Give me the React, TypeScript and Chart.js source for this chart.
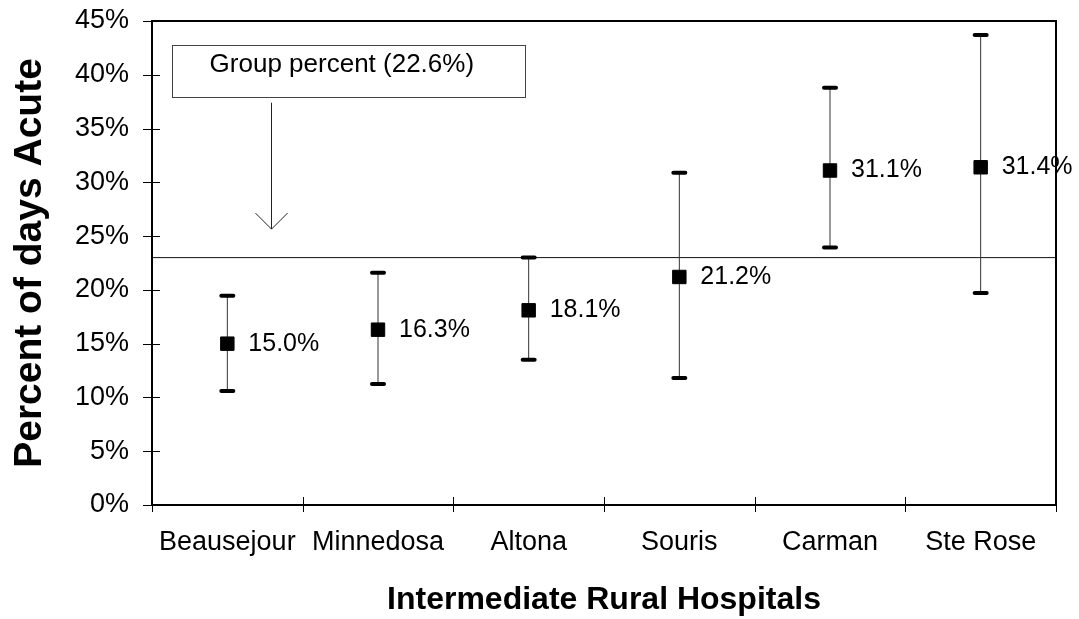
import React, { useEffect, useRef } from "react";
import { Chart, registerables } from "chart.js";

Chart.register(...registerables);

const hospitals = ["Beausejour", "Minnedosa", "Altona", "Souris", "Carman", "Ste Rose"];
const percentAcute = [15.0, 16.3, 18.1, 21.2, 31.1, 31.4];
const lowerCI = [10.6, 11.25, 13.5, 11.8, 23.95, 19.7];
const upperCI = [19.45, 21.6, 23.0, 30.9, 38.8, 43.7];
const valueLabels = ["15.0%", "16.3%", "18.1%", "21.2%", "31.1%", "31.4%"];
const groupLineValue = 23.0;
const groupLabel = "Group percent (22.6%)";
const yMin = 0;
const yMax = 45;
const yStep = 5;
const yTitle = "Percent of days Acute";
const xTitle = "Intermediate Rural Hospitals";

// annotation placement in data units (category index, percent)
const noteBox = { x0: -0.37, x1: 1.97, y0: 38.0, y1: 42.8, textX: 0.76, textY: 40.9 };
const noteArrow = { x: 0.29, yFrom: 37.4, yTo: 25.65 };

const FONT = "'Liberation Sans', Arial, sans-serif";

const decorPlugin = {
  id: "decor",
  beforeDatasetsDraw(chart: any) {
    const { ctx, chartArea, scales } = chart;
    const x = scales.x;
    const y = scales.y;
    ctx.save();
    const gy = y.getPixelForValue(groupLineValue);
    ctx.strokeStyle = "#111";
    ctx.lineWidth = 1;
    ctx.beginPath();
    ctx.moveTo(chartArea.left, gy);
    ctx.lineTo(chartArea.right, gy);
    ctx.stroke();
    for (let i = 0; i < hospitals.length; i++) {
      const px = x.getPixelForValue(i);
      const yl = y.getPixelForValue(lowerCI[i]);
      const yu = y.getPixelForValue(upperCI[i]);
      ctx.strokeStyle = "#333";
      ctx.lineWidth = 1;
      ctx.beginPath();
      ctx.moveTo(px, yl);
      ctx.lineTo(px, yu);
      ctx.stroke();
      ctx.strokeStyle = "#000";
      ctx.lineWidth = 4;
      ctx.lineCap = "round";
      ctx.beginPath();
      ctx.moveTo(px - 6, yl);
      ctx.lineTo(px + 6, yl);
      ctx.moveTo(px - 6, yu);
      ctx.lineTo(px + 6, yu);
      ctx.stroke();
      ctx.lineCap = "butt";
    }
    ctx.restore();
  },
  afterDraw(chart: any) {
    const { ctx, chartArea, scales } = chart;
    const x = scales.x;
    const y = scales.y;
    ctx.save();
    ctx.fillStyle = "#000";
    ctx.font = `25px ${FONT}`;
    ctx.textAlign = "left";
    ctx.textBaseline = "middle";
    for (let i = 0; i < hospitals.length; i++) {
      ctx.fillText(valueLabels[i], x.getPixelForValue(i) + 21, y.getPixelForValue(percentAcute[i]));
    }
    ctx.strokeStyle = "#000";
    ctx.lineWidth = 2;
    ctx.strokeRect(chartArea.left, chartArea.top, chartArea.right - chartArea.left, chartArea.bottom - chartArea.top);
    ctx.lineWidth = 1;
    ctx.beginPath();
    for (let v = yMin; v <= yMax; v += yStep) {
      const py = Math.round(y.getPixelForValue(v)) + 0.5;
      ctx.moveTo(chartArea.left - 9, py);
      ctx.lineTo(chartArea.left + 8, py);
    }
    for (let i = 0; i <= hospitals.length; i++) {
      const px = Math.round(x.getPixelForValue(i - 0.5)) + 0.5;
      ctx.moveTo(px, chartArea.bottom - 8);
      ctx.lineTo(px, chartArea.bottom + 7);
    }
    ctx.stroke();
    const bx0 = x.getPixelForValue(noteBox.x0);
    const bx1 = x.getPixelForValue(noteBox.x1);
    const by0 = y.getPixelForValue(noteBox.y1);
    const by1 = y.getPixelForValue(noteBox.y0);
    ctx.strokeStyle = "#444";
    ctx.lineWidth = 1;
    ctx.strokeRect(Math.round(bx0) + 0.5, Math.round(by0) + 0.5, Math.round(bx1 - bx0), Math.round(by1 - by0));
    ctx.fillStyle = "#000";
    ctx.font = `26px ${FONT}`;
    ctx.textAlign = "center";
    ctx.textBaseline = "middle";
    ctx.fillText(groupLabel, x.getPixelForValue(noteBox.textX), y.getPixelForValue(noteBox.textY));
    const ax = Math.round(x.getPixelForValue(noteArrow.x)) + 0.5;
    const ay0 = y.getPixelForValue(noteArrow.yFrom);
    const ay1 = y.getPixelForValue(noteArrow.yTo);
    ctx.strokeStyle = "#222";
    ctx.beginPath();
    ctx.moveTo(ax, ay0);
    ctx.lineTo(ax, ay1);
    ctx.moveTo(ax - 16, ay1 - 16);
    ctx.lineTo(ax, ay1);
    ctx.lineTo(ax + 16, ay1 - 16);
    ctx.stroke();
    ctx.restore();
  },
};

export default function App() {
  const canvasRef = useRef<HTMLCanvasElement | null>(null);

  useEffect(() => {
    const canvas = canvasRef.current;
    if (!canvas) return;
    const chart = new Chart(canvas, {
      type: "line",
      data: {
        labels: hospitals,
        datasets: [
          {
            label: "Percent of days Acute",
            data: percentAcute,
            showLine: false,
            pointStyle: "rect",
            pointRadius: 9.5,
            pointHoverRadius: 9.5,
            pointBackgroundColor: "#000",
            pointBorderColor: "#000",
            pointBorderWidth: 1,
          },
        ],
      },
      options: {
        animation: false,
        responsive: true,
        maintainAspectRatio: false,
        events: [],
        layout: { padding: { left: 0, top: 21, right: 23, bottom: 0 } },
        plugins: {
          legend: { display: false },
          tooltip: { enabled: false },
        },
        scales: {
          x: {
            type: "category",
            offset: true,
            grid: { display: false, drawTicks: false },
            border: { display: false },
            ticks: {
              color: "#000",
              font: { family: FONT, size: 27 },
              padding: 21,
              maxRotation: 0,
              autoSkip: false,
            },
            title: {
              display: true,
              text: xTitle,
              color: "#000",
              font: { family: FONT, size: 32, weight: "bold", lineHeight: 1 },
              padding: { top: 0, bottom: 3 },
            },
            afterFit(scale: any) {
              scale.height = 114;
              scale.paddingLeft = 0;
              scale.paddingRight = 0;
            },
          },
          y: {
            min: yMin,
            max: yMax,
            grid: { display: false, drawTicks: false },
            border: { display: false },
            ticks: {
              stepSize: yStep,
              color: "#000",
              font: { family: FONT, size: 27 },
              padding: 23,
              callback: (v: any) => `${v}%`,
            },
            title: {
              display: true,
              text: yTitle,
              color: "#000",
              font: { family: FONT, size: 39, weight: "bold", lineHeight: 1 },
              padding: { top: 11, bottom: 0 },
            },
            afterFit(scale: any) {
              scale.width = 152;
              scale.paddingTop = 0;
              scale.paddingBottom = 0;
            },
          },
        },
      },
      plugins: [decorPlugin],
    });
    return () => chart.destroy();
  }, []);

  return (
    <div style={{ position: "fixed", left: 0, top: 0, width: 1079, height: 619, background: "#fff" }}>
      <canvas ref={canvasRef} />
    </div>
  );
}
